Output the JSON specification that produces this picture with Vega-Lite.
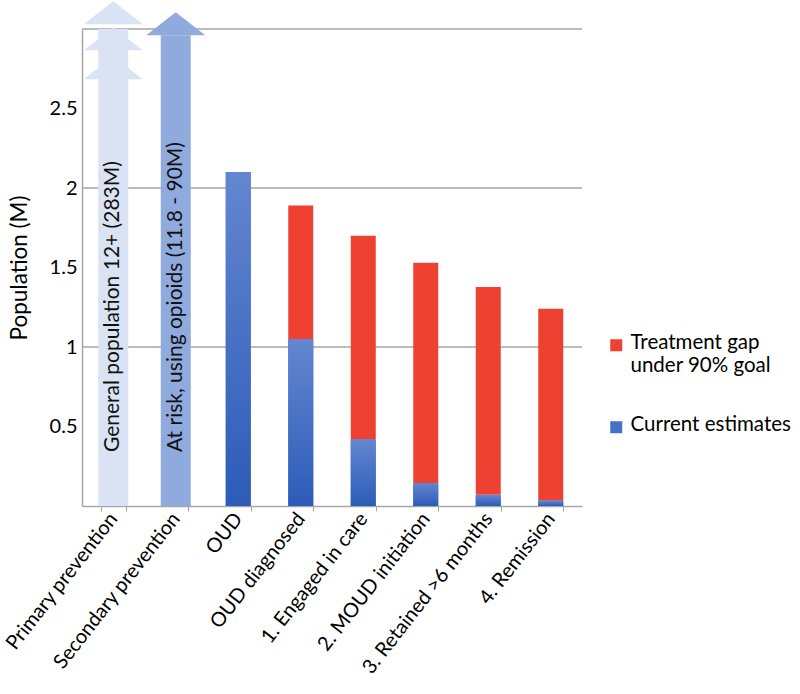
{
  "$schema": "https://vega.github.io/schema/vega-lite/v6.json",
  "width": 500,
  "height": 477,
  "autosize": {"type": "none"},
  "padding": {"left": 82, "top": 29, "right": 218, "bottom": 188},
  "background": "white",
  "datasets": {
    "bars": [
      {"stage": "OUD", "series": "Current estimates", "value": 2.1},
      {"stage": "OUD diagnosed", "series": "Current estimates", "value": 1.05},
      {"stage": "OUD diagnosed", "series": "Treatment gap under 90% goal", "value": 0.84},
      {"stage": "1. Engaged in care", "series": "Current estimates", "value": 0.42},
      {"stage": "1. Engaged in care", "series": "Treatment gap under 90% goal", "value": 1.28},
      {"stage": "2. MOUD initiation", "series": "Current estimates", "value": 0.145},
      {"stage": "2. MOUD initiation", "series": "Treatment gap under 90% goal", "value": 1.385},
      {"stage": "3. Retained >6 months", "series": "Current estimates", "value": 0.07},
      {"stage": "3. Retained >6 months", "series": "Treatment gap under 90% goal", "value": 1.307},
      {"stage": "4. Remission", "series": "Current estimates", "value": 0.035},
      {"stage": "4. Remission", "series": "Treatment gap under 90% goal", "value": 1.205}
    ],
    "arrows": [
      {"stage": "Primary prevention", "top": 3.0, "label": "General population 12+ (283M)"},
      {"stage": "Secondary prevention", "top": 2.96, "label": "At risk, using opioids (11.8 - 90M)"}
    ],
    "heads": [
      {"stage": "Primary prevention", "base": 2.684},
      {"stage": "Primary prevention", "base": 2.866},
      {"stage": "Primary prevention", "base": 3.03},
      {"stage": "Secondary prevention", "base": 2.96}
    ],
    "grid": [{"g": 1}, {"g": 2}, {"g": 3}]
  },
  "config": {
    "font": "Lato",
    "view": {"stroke": null},
    "axisY": {
      "grid": false,
      "ticks": false,
      "tickSize": 0,
      "domainColor": "#a6a6a6",
      "domainWidth": 1.5,
      "labelFontSize": 20,
      "labelColor": "#000000",
      "labelPadding": 5,
      "titleFontSize": 22.5,
      "titleFontWeight": "normal",
      "titleColor": "#000000",
      "titlePadding": 18
    },
    "axisX": {
      "tickBand": "extent",
      "tickColor": "#a6a6a6",
      "tickSize": 5,
      "domainColor": "#a6a6a6",
      "domainWidth": 1.5,
      "labelAngle": -52,
      "labelFontSize": 20,
      "labelColor": "#000000",
      "labelPadding": 4,
      "labelLimit": 400
    },
    "legend": {
      "orient": "none",
      "legendX": 524,
      "legendY": 306,
      "symbolType": "square",
      "symbolSize": 144,
      "symbolStrokeWidth": 0,
      "labelFontSize": 20.5,
      "labelColor": "#000000",
      "labelOffset": 4,
      "labelBaseline": "top",
      "rowPadding": 38,
      "labelLimit": 300
    }
  },
  "layer": [
    {
      "data": {"name": "grid"},
      "mark": {"type": "rule", "color": "#a6a6a6", "strokeWidth": 1.5},
      "encoding": {
        "y": {"field": "g", "type": "quantitative", "title": "Population (M)", "scale": {"domain": [0, 3], "nice": false},
              "axis": {"values": [0.5, 1, 1.5, 2, 2.5], "format": "~g"}}
      }
    },
    {
      "data": {"name": "arrows"},
      "mark": {"type": "bar", "width": 30},
      "encoding": {
        "x": {"field": "stage", "type": "nominal", "title": null, "sort": null,
              "scale": {"domain": ["Primary prevention", "Secondary prevention", "OUD", "OUD diagnosed", "1. Engaged in care", "2. MOUD initiation", "3. Retained >6 months", "4. Remission"], "paddingInner": 0.6, "paddingOuter": 0.3}},
        "y": {"field": "top", "type": "quantitative", "title": "Population (M)", "axis": {"values": [0.5, 1, 1.5, 2, 2.5], "format": "~g"}},
        "color": {"condition": {"test": "datum.stage == 'Primary prevention'", "value": "#dae3f3"}, "value": "#8faadc"}
      }
    },
    {
      "data": {"name": "heads"},
      "mark": {"type": "point", "shape": "M-1,0L1,0L0,-0.78Z", "size": 3481, "filled": true, "opacity": 1, "strokeWidth": 0},
      "encoding": {
        "x": {"field": "stage", "type": "nominal", "title": null},
        "y": {"field": "base", "type": "quantitative", "title": "Population (M)", "axis": {"values": [0.5, 1, 1.5, 2, 2.5], "format": "~g"}},
        "color": {"condition": {"test": "datum.stage == 'Primary prevention'", "value": "#dae3f3"}, "value": "#8faadc"}
      }
    },
    {
      "data": {"name": "arrows"},
      "mark": {"type": "text", "angle": 270, "align": "left", "baseline": "middle", "dx": 54, "fontSize": 21, "color": "#111111"},
      "encoding": {
        "x": {"field": "stage", "type": "nominal", "title": null},
        "y": {"datum": 0, "type": "quantitative", "title": "Population (M)", "axis": {"values": [0.5, 1, 1.5, 2, 2.5], "format": "~g"}},
        "text": {"field": "label"}
      }
    },
    {
      "data": {"name": "bars"},
      "mark": {"type": "bar"},
      "encoding": {
        "x": {"field": "stage", "type": "nominal", "title": null},
        "y": {"field": "value", "type": "quantitative", "stack": "zero", "title": "Population (M)", "axis": {"values": [0.5, 1, 1.5, 2, 2.5], "format": "~g"}},
        "color": {
          "field": "series", "type": "nominal",
          "scale": {"domain": ["Treatment gap under 90% goal", "Current estimates"], "range": ["#ef4131", "#4472c4"]},
          "legend": {"title": null, "labelExpr": "datum.label == 'Treatment gap under 90% goal' ? ['Treatment gap', 'under 90% goal'] : datum.label",
                     "encode": {"labels": {"update": {"dy": {"value": -12}}}}}
        },
        "order": {"field": "series", "sort": "ascending"}
      }
    },
    {
      "data": {"name": "bars"},
      "transform": [{"filter": "datum.series == 'Current estimates'"}],
      "mark": {"type": "bar", "color": {"gradient": "linear", "x1": 0, "y1": 0, "x2": 0, "y2": 1, "stops": [{"offset": 0, "color": "#6386d0"}, {"offset": 1, "color": "#2c5cb8"}]}},
      "encoding": {
        "x": {"field": "stage", "type": "nominal", "title": null},
        "y": {"field": "value", "type": "quantitative", "title": "Population (M)", "axis": {"values": [0.5, 1, 1.5, 2, 2.5], "format": "~g"}}
      }
    }
  ]
}
